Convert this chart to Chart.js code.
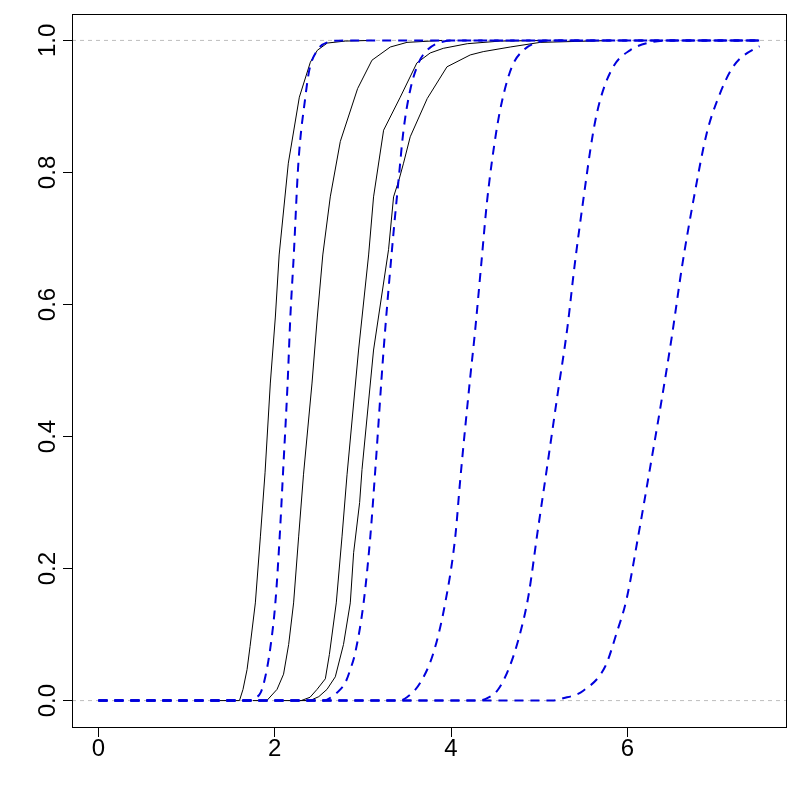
<!DOCTYPE html>
<html>
<head>
<meta charset="utf-8">
<script src="https://cdn.jsdelivr.net/npm/chart.js@4.4.1/dist/chart.umd.min.js"></script>
<style>
  html, body { margin: 0; padding: 0; background: #ffffff; }
</style>
</head>
<body>
<canvas id="cdf" width="800" height="800"></canvas>
<script>
// axis limits and tick labels
const X_MIN = -0.3, X_MAX = 7.8;
const Y_MIN = -0.04, Y_MAX = 1.04;
const xTicks = [0, 2, 4, 6];
const yTicks = [0, 0.2, 0.4, 0.6, 0.8, 1.0];
const refLevels = [0, 1];

// empirical CDFs (black step lines)
const ecdf1X = [1.35, 1.60, 1.64, 1.686, 1.72, 1.78, 1.837, 1.89, 1.95, 2.007, 2.05, 2.154, 2.279, 2.404, 2.483, 2.596, 2.80, 3.10];
const ecdf1Y = [0, 0, 0.017, 0.047, 0.082, 0.148, 0.248, 0.345, 0.481, 0.581, 0.675, 0.814, 0.914, 0.967, 0.985, 0.996, 0.999, 1];

const ecdf2X = [1.75, 1.91, 2.026, 2.10, 2.158, 2.214, 2.271, 2.326, 2.423, 2.483, 2.545, 2.630, 2.744, 2.94, 3.103, 3.311, 3.50, 3.90];
const ecdf2Y = [0, 0, 0.017, 0.04, 0.085, 0.148, 0.248, 0.342, 0.481, 0.581, 0.675, 0.763, 0.847, 0.927, 0.970, 0.990, 0.997, 1];

const ecdf3X = [2.05, 2.30, 2.40, 2.48, 2.574, 2.62, 2.698, 2.763, 2.82, 2.951, 3.065, 3.121, 3.235, 3.424, 3.613, 3.764, 3.912, 4.184, 4.558, 5.10];
const ecdf3Y = [0, 0, 0.005, 0.017, 0.033, 0.07, 0.148, 0.248, 0.342, 0.531, 0.675, 0.763, 0.864, 0.914, 0.966, 0.981, 0.988, 0.995, 0.999, 1];

const ecdf4X = [2.25, 2.40, 2.50, 2.593, 2.687, 2.78, 2.857, 2.895, 2.963, 2.990, 3.121, 3.291, 3.348, 3.41, 3.461, 3.537, 3.73, 3.954, 4.218, 4.365, 4.671, 5.011, 5.85];
const ecdf4Y = [0, 0, 0.006, 0.017, 0.036, 0.085, 0.148, 0.224, 0.300, 0.350, 0.531, 0.683, 0.763, 0.789, 0.814, 0.854, 0.912, 0.960, 0.978, 0.983, 0.990, 0.997, 1];

// fitted CDFs (blue dashed)
const fit1X = [0, 1.70, 1.78, 1.84, 1.893, 1.95, 2.007, 2.056, 2.094, 2.146, 2.177, 2.216, 2.268, 2.347, 2.392, 2.483, 2.596, 2.80, 7.5];
const fit1Y = [0, 0, 0.004, 0.012, 0.036, 0.08, 0.148, 0.248, 0.345, 0.481, 0.581, 0.675, 0.814, 0.914, 0.955, 0.985, 0.997, 1, 1];

const fit2X = [0, 2.55, 2.65, 2.744, 2.80, 2.857, 2.914, 3.008, 3.084, 3.141, 3.235, 3.330, 3.405, 3.461, 3.537, 3.632, 3.727, 3.878, 4.10, 7.5];
const fit2Y = [0, 0, 0.006, 0.017, 0.027, 0.047, 0.073, 0.148, 0.248, 0.350, 0.531, 0.683, 0.789, 0.864, 0.925, 0.966, 0.985, 0.997, 1, 1];

const fit3X = [0, 3.40, 3.50, 3.651, 3.802, 3.934, 4.048, 4.104, 4.218, 4.27, 4.34, 4.41, 4.51, 4.58, 4.69, 4.82, 4.98, 5.20, 7.5];
const fit3Y = [0, 0, 0.005, 0.027, 0.073, 0.148, 0.248, 0.334, 0.490, 0.556, 0.657, 0.758, 0.859, 0.909, 0.96, 0.985, 0.997, 1, 1];

const fit4X = [0, 4.30, 4.40, 4.53, 4.66, 4.78, 4.88, 4.98, 5.09, 5.21, 5.32, 5.40, 5.50, 5.61, 5.69, 5.84, 6.03, 6.26, 6.50, 7.5];
const fit4Y = [0, 0, 0.003, 0.016, 0.05, 0.10, 0.16, 0.254, 0.354, 0.465, 0.565, 0.657, 0.758, 0.859, 0.909, 0.96, 0.985, 0.997, 1, 1];

const fit5X = [0, 5.15, 5.26, 5.50, 5.75, 5.88, 5.99, 6.13, 6.26, 6.39, 6.51, 6.62, 6.75, 6.90, 7.02, 7.20, 7.48, 7.5];
const fit5Y = [0, 0, 0.003, 0.015, 0.052, 0.103, 0.153, 0.254, 0.354, 0.456, 0.556, 0.657, 0.758, 0.859, 0.909, 0.96, 0.99, 0.991];

const toPoints = (xs, ys) => xs.map((x, i) => ({x: x, y: ys[i]}));

const ecdfStyle = {
	borderColor: '#000000',
	borderWidth: 1,
	pointRadius: 0,
	tension: 0,
	fill: false,
	order: 1
};
const fitStyle = {
	borderColor: '#0000DC',
	borderWidth: 2,
	borderDash: [9, 7],
	pointRadius: 0,
	cubicInterpolationMode: 'monotone',
	fill: false,
	order: 0
};

const datasets = [];
// gray dashed reference lines at 0 and 1, full width of the plot
refLevels.forEach(lv => {
	datasets.push({
		data: [{x: X_MIN, y: lv}, {x: X_MAX, y: lv}],
		borderColor: '#BEBEBE',
		borderWidth: 1,
		borderDash: [4, 4],
		pointRadius: 0,
		order: 2
	});
});
[[ecdf1X, ecdf1Y], [ecdf2X, ecdf2Y], [ecdf3X, ecdf3Y], [ecdf4X, ecdf4Y]].forEach(s => {
	datasets.push(Object.assign({data: toPoints(s[0], s[1])}, ecdfStyle));
});
[[fit1X, fit1Y], [fit2X, fit2Y], [fit3X, fit3Y], [fit4X, fit4Y], [fit5X, fit5Y]].forEach(s => {
	datasets.push(Object.assign({data: toPoints(s[0], s[1])}, fitStyle));
});

// R style box round the plot region
const frame = {
	id: 'frame',
	afterDraw(chart) {
		const {ctx, chartArea: a} = chart;
		ctx.save();
		ctx.strokeStyle = '#000000';
		ctx.lineWidth = 1;
		ctx.strokeRect(a.left + 0.5, a.top + 0.5, a.right - a.left, a.bottom - a.top);
		ctx.restore();
	}
};

const tickFont = {family: '"Liberation Sans", Arial, sans-serif', size: 24, lineHeight: 1};

new Chart(document.getElementById('cdf'), {
	type: 'line',
	data: {datasets: datasets},
	plugins: [frame],
	options: {
		responsive: false,
		animation: false,
		layout: {padding: {top: 14, right: 14, left: 0, bottom: 0}},
		plugins: {
			legend: {display: false},
			tooltip: {enabled: false},
			title: {display: false}
		},
		scales: {
			x: {
				type: 'linear',
				min: X_MIN,
				max: X_MAX,
				afterBuildTicks: axis => { axis.ticks = xTicks.map(v => ({value: v})); },
				afterFit: axis => { axis.height = 73; },
				border: {display: false},
				grid: {drawOnChartArea: false, drawTicks: true, tickLength: 10, tickColor: '#000000'},
				ticks: {
					color: '#000000',
					font: tickFont,
					padding: 0,
					maxRotation: 0,
					callback: v => String(v)
				}
			},
			y: {
				type: 'linear',
				min: Y_MIN,
				max: Y_MAX,
				afterBuildTicks: axis => { axis.ticks = yTicks.map(v => ({value: v})); },
				afterFit: axis => { axis.width = 72; },
				border: {display: false},
				grid: {drawOnChartArea: false, drawTicks: true, tickLength: 9, tickColor: '#000000'},
				ticks: {
					color: '#000000',
					font: tickFont,
					padding: -2,
					minRotation: 90,
					maxRotation: 90,
					crossAlign: 'center',
					callback: v => v.toFixed(1)
				}
			}
		}
	}
});
</script>
</body>
</html>
